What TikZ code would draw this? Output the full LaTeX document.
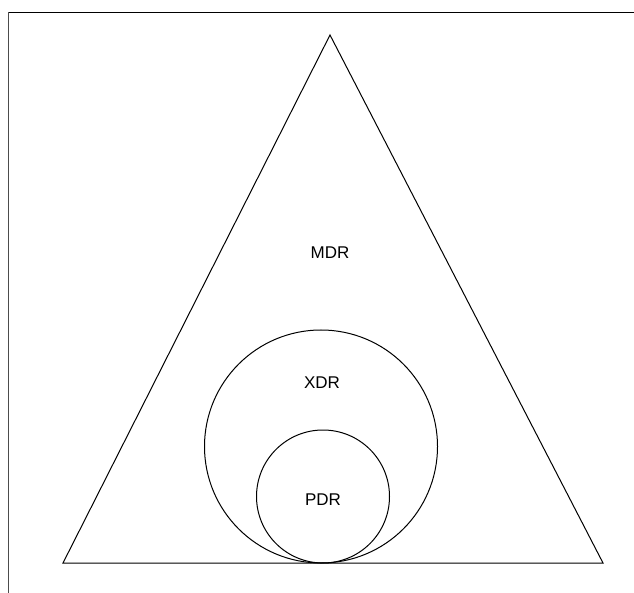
\documentclass[tikz,border=0pt]{standalone}
\usepackage{fontspec}
\setmainfont{Liberation Sans}
\usetikzlibrary{positioning}

\begin{document}
\begin{tikzpicture}[
x=1pt, y=-1pt,
edge/.style={draw=black, line width=1pt},
frameline/.style={line width=1.8pt},
lbl/.style={font=\fontsize{17}{20}\selectfont, inner sep=0pt}
]
\useasboundingbox (0,0) rectangle (634,593);
% frame
\draw[frameline, black] (8,12.5) -- (634,12.5);
\draw[frameline, black!70] (8.5,12.5) -- (8.5,593);
% regions
\draw[edge] (330,35) -- (603,563) -- (63,563) -- cycle;
\draw[edge] (321,446.5) circle[radius=116.5];
\draw[edge] (323,496.5) circle[radius=66.5];
% labels
\node[lbl] (mdr) at (330,253) {MDR};
\node[lbl] (xdr) at (322,383) {XDR};
\node[lbl] (pdr) at (323,500) {PDR};
\end{tikzpicture}
\end{document}
